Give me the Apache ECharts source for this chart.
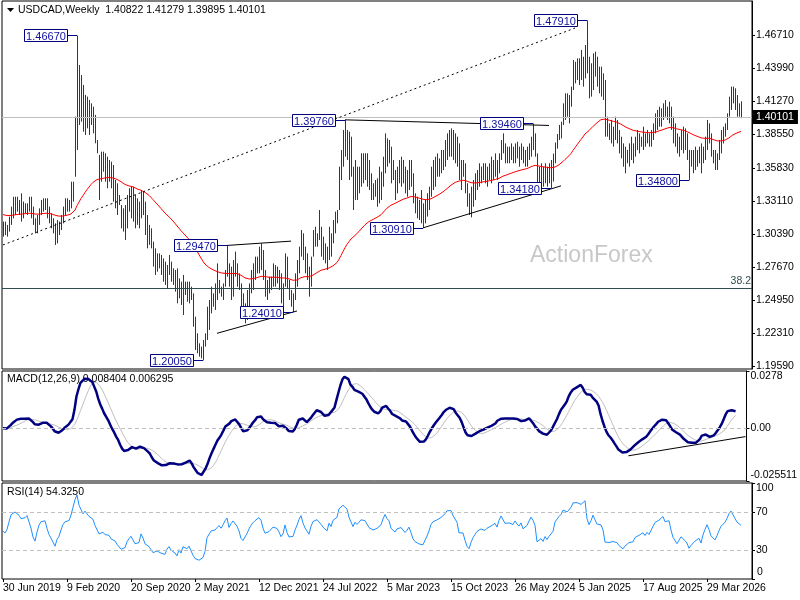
<!DOCTYPE html>
<html><head><meta charset="utf-8">
<script src="https://cdn.jsdelivr.net/npm/echarts@6/dist/echarts.min.js"></script>
<style>html,body{margin:0;padding:0;background:#fff}#c{width:800px;height:600px}</style>
</head><body><div id="c"></div>
<script>
// ---- data (weekly USDCAD bars) ----
const startWeek = [2019, 5, 30];   // 30 Jun 2019 (UTC y, m, d)
const weekCount = 375;             // weeks on the time axis (last 5 empty)
const H = [
1.3142,1.3142,1.3115,1.3183,1.3265,1.3346,1.3346,1.3346,1.3319,1.3374,
1.3306,1.3292,1.3292,1.3346,1.3346,1.3265,1.3169,1.3196,1.3251,1.3319,
1.3333,1.3333,1.3333,1.3265,1.3210,1.3169,1.3128,1.3155,1.3142,1.3196,
1.3265,1.3333,1.3333,1.3319,1.3469,1.3469,1.4002,1.4667,1.4425,1.4343,
1.4262,1.4180,1.4166,1.4139,1.4111,1.4084,1.4016,1.3811,1.3688,1.3715,
1.3715,1.3702,1.3674,1.3647,1.3633,1.3606,1.3483,1.3456,1.3360,1.3278,
1.3251,1.3278,1.3360,1.3415,1.3428,1.3428,1.3360,1.3333,1.3306,1.3401,
1.3388,1.3306,1.3196,1.3115,1.3087,1.2978,1.2923,1.2882,1.2882,1.2869,
1.2841,1.2814,1.2787,1.2869,1.2814,1.2759,1.2746,1.2759,1.2677,1.2650,
1.2705,1.2650,1.2650,1.2650,1.2609,1.2554,1.2363,1.2227,1.2145,1.2118,
1.2172,1.2227,1.2445,1.2500,1.2609,1.2554,1.2636,1.2800,1.2664,1.2609,
1.2636,1.2746,1.2947,1.2800,1.2773,1.2827,1.2896,1.2800,1.2718,1.2636,
1.2554,1.2472,1.2582,1.2636,1.2746,1.2800,1.2855,1.2855,1.2937,1.2964,
1.2909,1.2746,1.2664,1.2691,1.2691,1.2800,1.2786,1.2773,1.2746,1.2718,
1.2636,1.2882,1.2855,1.2664,1.2582,1.2554,1.2718,1.2827,1.2937,1.3073,
1.3046,1.2937,1.2882,1.2773,1.2855,1.3073,1.3100,1.3046,1.3237,1.3100,
1.3019,1.2964,1.2937,1.3100,1.3046,1.3155,1.3224,1.3237,1.3592,1.3729,
1.3893,1.3976,1.3893,1.3879,1.3838,1.3592,1.3647,1.3592,1.3592,1.3702,
1.3702,1.3702,1.3702,1.3647,1.3538,1.3456,1.3483,1.3497,1.3592,1.3551,
1.3674,1.3865,1.3824,1.3811,1.3756,1.3647,1.3565,1.3592,1.3647,1.3674,
1.3647,1.3592,1.3565,1.3647,1.3647,1.3538,1.3374,1.3346,1.3319,1.3401,
1.3292,1.3319,1.3374,1.3428,1.3592,1.3647,1.3674,1.3701,1.3660,1.3729,
1.3729,1.3811,1.3865,1.3893,1.3906,1.3893,1.3865,1.3838,1.3783,1.3647,
1.3647,1.3620,1.3456,1.3374,1.3428,1.3483,1.3538,1.3565,1.3620,1.3592,
1.3620,1.3620,1.3592,1.3620,1.3674,1.3647,1.3701,1.3647,1.3701,1.3811,
1.3865,1.3783,1.3756,1.3756,1.3783,1.3756,1.3783,1.3797,1.3756,1.3783,
1.3756,1.3729,1.3756,1.3783,1.3838,1.3946,1.3865,1.3701,1.3592,1.3620,
1.3592,1.3620,1.3592,1.3620,1.3647,1.3700,1.3790,1.3860,1.3934,1.3961,
1.4111,1.4193,1.4193,1.4179,1.4248,1.4466,1.4452,1.4480,1.4480,1.4548,
1.4493,1.4589,1.4791,1.4493,1.4439,1.4521,1.4534,1.4493,1.4412,1.4412,
1.4357,1.4302,1.4002,1.3947,1.3975,1.3920,1.4002,1.3975,1.3893,1.3838,
1.3783,1.3756,1.3729,1.3783,1.3838,1.3783,1.3838,1.3893,1.3865,1.3838,
1.3920,1.3865,1.3893,1.3865,1.3893,1.3947,1.4029,1.4057,1.4084,1.4070,
1.4111,1.4138,1.4084,1.4125,1.4084,1.4002,1.3947,1.3865,1.3838,1.3893,
1.3920,1.3906,1.3865,1.3729,1.3729,1.3729,1.3756,1.3729,1.3756,1.3783,
1.3756,1.3838,1.3975,1.3947,1.3865,1.3729,1.3729,1.3701,1.3811,1.3893,
1.3920,1.3947,1.4029,1.4166,1.4248,1.4248,1.4234,1.4179,1.4111,1.41279
];
const L = [
1.3019,1.3032,1.3019,1.3060,1.3115,1.3169,1.3196,1.3224,1.3196,1.3142,
1.3169,1.3210,1.3196,1.3224,1.3169,1.3115,1.3046,1.3046,1.3115,1.3196,
1.3224,1.3237,1.3169,1.3128,1.3087,1.3046,1.2951,1.2964,1.3032,1.3073,
1.3128,1.3196,1.3224,1.3224,1.3251,1.3306,1.3510,1.3729,1.3934,1.3961,
1.3879,1.3852,1.3906,1.3852,1.3934,1.3866,1.3784,1.3702,1.3319,1.3469,
1.3551,1.3469,1.3415,1.3469,1.3415,1.3306,1.3251,1.3196,1.3278,1.3087,
1.3060,1.2992,1.3087,1.3224,1.3169,1.3142,1.3087,1.3115,1.3087,1.3169,
1.3196,1.3032,1.2923,1.2951,1.2923,1.2773,1.2705,1.2732,1.2759,1.2705,
1.2650,1.2623,1.2595,1.2705,1.2650,1.2623,1.2568,1.2473,1.2514,1.2459,
1.2377,1.2541,1.2486,1.2472,1.2500,1.2281,1.2090,1.2063,1.2036,1.2022,
1.2005,1.2118,1.2172,1.2254,1.2390,1.2445,1.2418,1.2500,1.2554,1.2527,
1.2500,1.2609,1.2691,1.2609,1.2500,1.2527,1.2691,1.2609,1.2582,1.2390,
1.2390,1.2309,1.2336,1.2445,1.2554,1.2582,1.2664,1.2718,1.2718,1.2746,
1.2664,1.2527,1.2500,1.2554,1.2582,1.2609,1.2609,1.2636,1.2582,1.2472,
1.2445,1.2609,1.2595,1.2500,1.2445,1.2401,1.2500,1.2609,1.2718,1.2855,
1.2827,1.2718,1.2664,1.2527,1.2609,1.2855,1.2937,1.2937,1.2991,1.2855,
1.2827,1.2800,1.2746,1.2827,1.2855,1.2964,1.3046,1.3128,1.3237,1.3483,
1.3592,1.3674,1.3647,1.3483,1.3510,1.3237,1.3319,1.3319,1.3374,1.3428,
1.3456,1.3483,1.3428,1.3401,1.3319,1.3319,1.3346,1.3264,1.3292,1.3319,
1.3428,1.3538,1.3592,1.3620,1.3456,1.3483,1.3319,1.3374,1.3456,1.3428,
1.3456,1.3374,1.3346,1.3401,1.3428,1.3292,1.3210,1.3169,1.3155,1.3128,
1.3091,1.3128,1.3183,1.3237,1.3346,1.3401,1.3428,1.3510,1.3510,1.3538,
1.3565,1.3592,1.3647,1.3674,1.3674,1.3647,1.3620,1.3592,1.3483,1.3401,
1.3510,1.3374,1.3264,1.3196,1.3177,1.3264,1.3319,1.3401,1.3428,1.3456,
1.3483,1.3456,1.3428,1.3483,1.3456,1.3483,1.3510,1.3483,1.3538,1.3647,
1.3701,1.3620,1.3620,1.3620,1.3647,1.3620,1.3620,1.3660,1.3592,1.3647,
1.3620,1.3592,1.3592,1.3647,1.3674,1.3729,1.3674,1.3456,1.3428,1.3456,
1.3428,1.3456,1.3428,1.3456,1.3418,1.3470,1.3620,1.3740,1.3811,1.3824,
1.3934,1.3975,1.4002,1.3947,1.4084,1.4220,1.4275,1.4302,1.4261,1.4302,
1.4248,1.4316,1.4357,1.4152,1.4166,1.4220,1.4330,1.4248,1.4193,1.4166,
1.4138,1.3838,1.3838,1.3811,1.3783,1.3756,1.3811,1.3783,1.3701,1.3660,
1.3592,1.3538,1.3620,1.3592,1.3647,1.3620,1.3674,1.3729,1.3701,1.3756,
1.3729,1.3756,1.3783,1.3756,1.3756,1.3811,1.3865,1.3893,1.3920,1.3920,
1.3975,1.4002,1.3975,1.3947,1.3893,1.3783,1.3756,1.3701,1.3674,1.3729,
1.3701,1.3729,1.3647,1.3480,1.3592,1.3538,1.3565,1.3592,1.3620,1.3538,
1.3620,1.3647,1.3729,1.3783,1.3674,1.3620,1.3565,1.3565,1.3647,1.3701,
1.3783,1.3838,1.3893,1.4002,1.4057,1.4111,1.4057,1.4002,1.4002,1.39895
];
const C = [
1.3085,1.3070,1.3095,1.3160,1.3240,1.3265,1.3280,1.3270,1.3260,1.3240,
1.3245,1.3250,1.3270,1.3270,1.3200,1.3130,1.3090,1.3160,1.3230,1.3270,
1.3280,1.3280,1.3220,1.3160,1.3120,1.3070,1.3010,1.3070,1.3100,1.3170,
1.3240,1.3280,1.3270,1.3300,1.3390,1.3420,1.3880,1.4250,1.4080,1.4150,
1.3960,1.4090,1.4050,1.3980,1.4020,1.3940,1.3800,1.3760,1.3580,1.3600,
1.3620,1.3560,1.3590,1.3540,1.3450,1.3400,1.3390,1.3300,1.3290,1.3150,
1.3130,1.3160,1.3250,1.3300,1.3340,1.3320,1.3170,1.3200,1.3180,1.3320,
1.3230,1.3080,1.3060,1.3000,1.2950,1.2800,1.2780,1.2810,1.2790,1.2740,
1.2720,1.2700,1.2760,1.2790,1.2700,1.2680,1.2620,1.2530,1.2600,1.2500,
1.2580,1.2560,1.2530,1.2560,1.2520,1.2300,1.2160,1.2150,1.2080,1.2080,
1.2110,1.2180,1.2380,1.2400,1.2500,1.2510,1.2520,1.2560,1.2600,1.2560,
1.2620,1.2700,1.2760,1.2620,1.2700,1.2760,1.2740,1.2680,1.2600,1.2450,
1.2400,1.2380,1.2510,1.2600,1.2680,1.2740,1.2790,1.2780,1.2870,1.2830,
1.2700,1.2600,1.2620,1.2630,1.2650,1.2710,1.2700,1.2690,1.2640,1.2560,
1.2600,1.2750,1.2620,1.2530,1.2500,1.2530,1.2640,1.2740,1.2880,1.2990,
1.2860,1.2760,1.2720,1.2620,1.2810,1.2950,1.2990,1.3010,1.3060,1.2940,
1.2880,1.2850,1.2800,1.2990,1.2920,1.3100,1.3140,1.3200,1.3560,1.3660,
1.3770,1.3800,1.3720,1.3550,1.3590,1.3340,1.3500,1.3440,1.3520,1.3610,
1.3570,1.3600,1.3560,1.3440,1.3400,1.3380,1.3390,1.3420,1.3450,1.3500,
1.3650,1.3790,1.3720,1.3680,1.3530,1.3520,1.3450,1.3520,1.3560,1.3550,
1.3520,1.3460,1.3500,1.3560,1.3460,1.3330,1.3260,1.3230,1.3200,1.3200,
1.3180,1.3240,1.3300,1.3380,1.3500,1.3560,1.3580,1.3600,1.3620,1.3650,
1.3680,1.3730,1.3800,1.3790,1.3820,1.3770,1.3760,1.3700,1.3560,1.3580,
1.3560,1.3440,1.3310,1.3250,1.3330,1.3400,1.3450,1.3500,1.3520,1.3540,
1.3540,1.3520,1.3550,1.3560,1.3580,1.3560,1.3620,1.3580,1.3680,1.3760,
1.3740,1.3680,1.3670,1.3690,1.3710,1.3680,1.3730,1.3700,1.3680,1.3720,
1.3660,1.3650,1.3700,1.3760,1.3820,1.3790,1.3740,1.3500,1.3520,1.3540,
1.3490,1.3550,1.3500,1.3540,1.3520,1.3600,1.3760,1.3820,1.3880,1.3930,
1.4050,1.4100,1.4060,1.4120,1.4200,1.4380,1.4380,1.4390,1.4400,1.4380,
1.4420,1.4520,1.4300,1.4200,1.4300,1.4460,1.4380,1.4300,1.4350,1.4300,
1.4200,1.3870,1.3880,1.3850,1.3830,1.3860,1.3880,1.3820,1.3740,1.3700,
1.3640,1.3680,1.3660,1.3720,1.3700,1.3720,1.3780,1.3800,1.3810,1.3790,
1.3840,1.3800,1.3840,1.3810,1.3860,1.3920,1.3980,1.4000,1.4020,1.4040,
1.4080,1.4030,1.4060,1.4050,1.3950,1.3850,1.3800,1.3740,1.3780,1.3820,
1.3800,1.3760,1.3720,1.3620,1.3650,1.3620,1.3680,1.3650,1.3700,1.3620,
1.3720,1.3800,1.3880,1.3810,1.3700,1.3660,1.3620,1.3680,1.3760,1.3840,
1.3880,1.3920,1.4000,1.4120,1.4200,1.4180,1.4100,1.4050,1.4082,1.40101
];
// tick labels of the right-hand scales (ascending)
const priceTicks = [1.1959,1.2231,1.2495,1.2767,1.3039,1.3311,1.3583,1.3855,1.4127,1.4399,1.4671];
const macdTicks = [-0.025511, 0, 0.0278];
const macdTickLabels = ['-0.025511', '0.00', '0.0278'];
const rsiTicks = [0, 30, 70, 100];
const rsiTickLabels = ['0', '30', '70', '100'];
// labelled swing highs / lows: week index and price
const pivotIdx = [37, 112, 145, 100, 171, 210, 265, 274, 292, 343];
const pivotVal = [1.4667, 1.2947, 1.2401, 1.2005, 1.3976, 1.3091, 1.3946, 1.3418, 1.4791, 1.3480];
// trend lines: [[week, price], [week, price]]
const channelLine = [[0, 1.2951], [286, 1.4728]];
const solidLines = [
  [[112, 1.2947], [144, 1.2982]],
  [[107, 1.2227], [147, 1.2410]],
  [[171, 1.3976], [273, 1.3930]],
  [[210, 1.3091], [279, 1.3435]]
];
const macdTrend = [[315, -0.0133], [374, -0.0040]];
const lastPrice = 1.40101;
const fibLevel = 1.2617;
const fibText = '38.2';
const headerText = 'USDCAD,Weekly  1.40822 1.41279 1.39895 1.40101';
const macdText = 'MACD(12,26,9) 0.008404 0.006295';
const rsiText = 'RSI(14) 54.3250';
const watermark = 'ActionForex';

// ---- categories ----
const MONTHS = ['Jan','Feb','Mar','Apr','May','Jun','Jul','Aug','Sep','Oct','Nov','Dec'];
const cats = [];
const t0 = Date.UTC(startWeek[0], startWeek[1], startWeek[2]);
for (let k = 0; k < weekCount; k++) {
  const d = new Date(t0 + k * 7 * 86400000);
  cats.push(d.getUTCDate() + ' ' + MONTHS[d.getUTCMonth()] + ' ' + d.getUTCFullYear());
}

// ---- indicators computed from the closes ----
function ema(src, n, seed) {
  const a = 2 / (n + 1); const out = []; let e = (seed === undefined) ? src[0] : seed;
  for (let i = 0; i < src.length; i++) { if (i > 0 || seed !== undefined) e = e + a * (src[i] - e); out.push(+e.toFixed(6)); }
  return out;
}
let seed = 0; for (let i = 0; i < 20; i++) seed += C[i]; seed /= 20;
const ma = ema(C, 55, seed);
const e12 = ema(C, 12), e26 = ema(C, 26);
const macd = e12.map((v, i) => +(v - e26[i]).toFixed(6));
const signal = macd.map((v, i) => { const s = Math.max(0, i - 8); let t = 0; for (let k = s; k <= i; k++) t += macd[k]; return +(t / (i - s + 1)).toFixed(6); });
// RSI(14), Wilder smoothing, warm-up seeded neutral from the first 14 moves
let absSum = 0; for (let i = 1; i <= 14; i++) absSum += Math.abs(C[i] - C[i - 1]);
let ag = absSum / 28, al = absSum / 28;
const rsi = [50];
for (let i = 1; i < C.length; i++) {
  const ch = C[i] - C[i - 1];
  ag = (ag * 13 + Math.max(ch, 0)) / 14; al = (al * 13 + Math.max(-ch, 0)) / 14;
  rsi.push(al === 0 ? 100 : +(100 - 100 / (1 + ag / al)).toFixed(3));
}

const FONT = 'Liberation Sans';
const barData = H.map((h, i) => [i, h, L[i]]);
const pivotData = pivotIdx.map((i, k) => [i, pivotVal[k]]);
const labelFor = (ticks, texts) => v => { for (let k = 0; k < ticks.length; k++) if (Math.abs(v - ticks[k]) < 1e-9) return texts[k]; return ''; };
const RICH = {
  lo: { padding: [0, 0, 11, 0], fontSize: 10.5, fontFamily: FONT, color: '#000' },
  hi: { padding: [11, 0, 0, 0], fontSize: 10.5, fontFamily: FONT, color: '#000' }
};
// lowest tick label sits just above the panel floor, highest just below its ceiling
const insetFmt = (ticks, texts) => (v) => {
  const t = labelFor(ticks, texts)(v);
  const lo = Math.min.apply(null, ticks), hi = Math.max.apply(null, ticks);
  if (Math.abs(v - lo) < 1e-9) return '{lo|' + t + '}';
  if (Math.abs(v - hi) < 1e-9) return '{hi|' + t + '}';
  return t;
};

const chart = echarts.init(document.getElementById('c'), null, { renderer: 'canvas' });
const catAxis = (gi, show) => ({
  type: 'category', gridIndex: gi, data: cats, boundaryGap: true,
  axisLine: { show: false }, splitLine: { show: false },
  axisTick: show ? { show: true, interval: i => i % 32 === 0, alignWithLabel: true, length: 3, lineStyle: { color: '#000' } } : { show: false },
  axisLabel: show ? { show: true, interval: i => i % 32 === 0, align: 'left', margin: 4, color: '#000', fontSize: 10.5, fontFamily: FONT } : { show: false }
});
const valAxis = (gi, min, max, ticks, fmt, labelValues) => ({
  type: 'value', gridIndex: gi, position: 'right', min: min, max: max, scale: true,
  axisLine: { show: true, lineStyle: { color: '#000' } },
  axisTick: { show: true, length: 3, customValues: ticks, lineStyle: { color: '#000' } },
  splitLine: { show: false },
  axisLabel: { show: true, customValues: labelValues || ticks, formatter: fmt, rich: RICH, margin: 4, color: '#000', fontSize: 10.5, fontFamily: FONT,
    showMinLabel: true, showMaxLabel: true, hideOverlap: false }
});

const trendMark = (pair, type) => [{ coord: pair[0], lineStyle: { color: '#000', width: 1, type: type } }, { coord: pair[1] }];

chart.setOption({
  animation: false,
  backgroundColor: '#fff',
  grid: [
    { left: 2, top: 1, width: 750, height: 368, show: true, borderColor: '#000', borderWidth: 1, backgroundColor: 'transparent' },
    { left: 2, top: 371, width: 750, height: 110, show: true, borderColor: '#000', borderWidth: 1 },
    { left: 2, top: 483, width: 750, height: 96, show: true, borderColor: '#000', borderWidth: 1 }
  ],
  xAxis: [catAxis(0, false), catAxis(1, false), catAxis(2, true)],
  yAxis: [
    valAxis(0, 1.19345, 1.49496, priceTicks, v => v.toFixed(5)),
    valAxis(1, -0.025511, 0.0278, macdTicks, insetFmt(macdTicks, macdTickLabels)),
    // the floor label of the RSI scale is written separately (the axis drops it at the panel corner)
    valAxis(2, 0, 100, rsiTicks, insetFmt(rsiTicks, rsiTickLabels), rsiTicks.slice(1))
  ],
  graphic: [
    { type: 'polygon', shape: { points: [[7, 8], [14, 8], [10.5, 12]] }, style: { fill: '#000' } },
    { type: 'text', left: 18, top: 5, style: { text: headerText, fill: '#000', font: '10.5px "' + FONT + '"' } },
    { type: 'text', left: 530, top: 244, z: -1, style: { text: watermark, fill: '#c8c8c8', font: '23px "' + FONT + '"' } },
    { type: 'text', left: 7, top: 374, style: { text: macdText, fill: '#000', font: '10.5px "' + FONT + '"' } },
    { type: 'text', left: 7, top: 487, style: { text: rsiText, fill: '#000', font: '10.5px "' + FONT + '"' } },
    { type: 'text', left: 757, top: 567, z: 100, style: { text: rsiTickLabels[0], fill: '#000', font: '10.5px "' + FONT + '"' } }
  ],
  series: [
    {
      name: 'bars', type: 'custom', xAxisIndex: 0, yAxisIndex: 0, data: barData, encode: { x: 0, y: [1, 2] }, z: 3,
      renderItem: (params, api) => {
        const a = api.coord([api.value(0), api.value(1)]);
        const b = api.coord([api.value(0), api.value(2)]);
        const px = Math.round(a[0]) + 0.5;
        return { type: 'line', shape: { x1: px, y1: a[1], x2: px, y2: b[1] }, style: { stroke: '#17405c', lineWidth: 1 } };
      }
    },
    {
      name: 'MA', type: 'line', xAxisIndex: 0, yAxisIndex: 0, data: ma, showSymbol: false, symbol: 'none', z: 4,
      lineStyle: { color: '#ff0000', width: 1 },
      markLine: {
        silent: true, symbol: ['none', 'none'], animation: false,
        data: [
          { yAxis: lastPrice, lineStyle: { color: '#c0c0c0', width: 1, type: 'solid' },
            label: { show: true, position: 'end', distance: 0, formatter: lastPrice.toFixed(5), backgroundColor: '#000', color: '#fff', padding: [2, 4, 1, 4], fontSize: 10.5, fontFamily: FONT } },
          { yAxis: fibLevel, lineStyle: { color: '#2f4f4f', width: 1, type: 'solid' },
            label: { show: true, position: 'insideEndTop', distance: [1, 1], formatter: fibText, color: '#2f4f4f', fontSize: 10.5, fontFamily: FONT } },
          trendMark(channelLine, [2, 3])
        ].concat(solidLines.map(p => trendMark(p, 'solid'))),
        label: { show: false }
      }
    },
    {
      name: 'pivots', type: 'custom', xAxisIndex: 0, yAxisIndex: 0, data: pivotData, z: 10, clip: false,
      renderItem: (params, api) => {
        const p = api.coord([api.value(0), api.value(1)]);
        const txt = Number(api.value(1)).toFixed(5);
        const gap = 10, w = 43, h = 12;
        const px = Math.round(p[0]), py = Math.round(p[1]) + 0.5;
        const rx = px - gap - w + 0.5;
        return { type: 'group', children: [
          { type: 'line', shape: { x1: px - gap, y1: py, x2: px, y2: py }, style: { stroke: '#000080', lineWidth: 1 } },
          { type: 'rect', shape: { x: rx, y: py - 6, width: w, height: h }, style: { fill: '#fff', stroke: '#000080', lineWidth: 1 } },
          { type: 'text', style: { text: txt, x: rx + w / 2, y: py + 1, align: 'center', verticalAlign: 'middle', fill: '#1010a0', font: '11px "' + FONT + '"' } }
        ] };
      }
    },
    {
      name: 'signal', type: 'line', xAxisIndex: 1, yAxisIndex: 1, data: signal, showSymbol: false, symbol: 'none', z: 3,
      lineStyle: { color: '#c0c0c0', width: 1 }
    },
    {
      name: 'MACD', type: 'line', xAxisIndex: 1, yAxisIndex: 1, data: macd, showSymbol: false, symbol: 'none', z: 4,
      lineStyle: { color: '#000080', width: 2.5 },
      markLine: {
        silent: true, symbol: ['none', 'none'], label: { show: false },
        data: [
          { yAxis: 0, lineStyle: { color: '#c0c0c0', width: 1, type: [4, 3] } },
          trendMark(macdTrend, 'solid')
        ]
      }
    },
    {
      name: 'RSI', type: 'line', xAxisIndex: 2, yAxisIndex: 2, data: rsi, showSymbol: false, symbol: 'none', z: 4,
      lineStyle: { color: '#1e90ff', width: 1 },
      markLine: {
        silent: true, symbol: ['none', 'none'], label: { show: false },
        lineStyle: { color: '#c0c0c0', width: 1, type: [4, 3] },
        data: [{ yAxis: 70 }, { yAxis: 30 }]
      }
    }
  ]
});
</script>
</body></html>
